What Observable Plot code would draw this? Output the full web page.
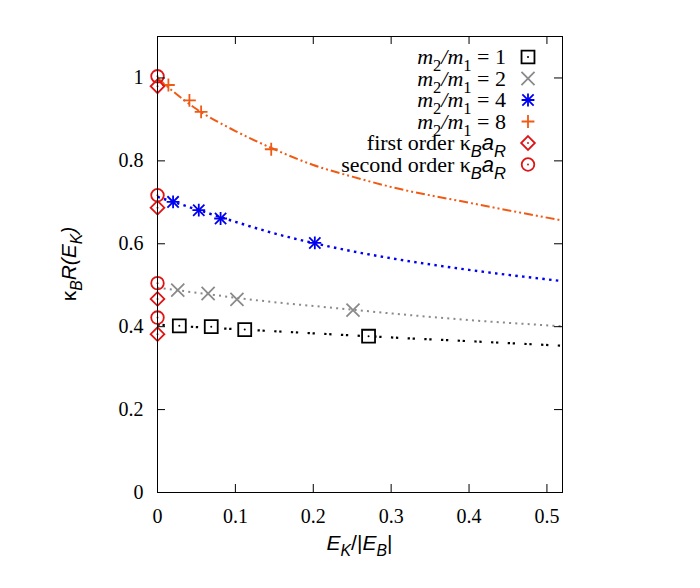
<!DOCTYPE html>
<html><head><meta charset="utf-8">
<script src="https://cdn.jsdelivr.net/npm/d3@7"></script>
<script src="https://cdn.jsdelivr.net/npm/@observablehq/plot@0.6"></script>
<style>body{margin:0;background:#fff}</style>
</head><body><div id="chart"></div>
<script>
// ---- data ----
const xTicks = [0, 0.1, 0.2, 0.3, 0.4, 0.5];
const yTicks = [0, 0.2, 0.4, 0.6, 0.8, 1];
const ratios = [1, 2, 4, 8];

// fitted curves
const fitX  = [0, 0.025, 0.05, 0.1, 0.15, 0.2, 0.25, 0.3, 0.4, 0.52];
const fitR1 = [0.405, 0.402, 0.399, 0.394, 0.389, 0.384, 0.379, 0.374, 0.365, 0.354];
const fitR2 = [0.494, 0.488, 0.482, 0.470, 0.459, 0.450, 0.441, 0.432, 0.416, 0.401];
const fitR4 = [0.713, 0.698, 0.683, 0.653, 0.625, 0.602, 0.582, 0.565, 0.537, 0.510];
const fitR8 = [1.000, 0.960, 0.925, 0.872, 0.828, 0.790, 0.762, 0.737, 0.699, 0.656];

// computed points
const ptsX1 = [0.028, 0.069, 0.112, 0.271];
const ptsY1 = [0.402, 0.400, 0.393, 0.377];
const ptsX2 = [0.026, 0.065, 0.102, 0.251];
const ptsY2 = [0.488, 0.480, 0.466, 0.440];
const ptsX4 = [0.020, 0.053, 0.081, 0.202];
const ptsY4 = [0.701, 0.681, 0.661, 0.602];
const ptsX8 = [0.014, 0.041, 0.056, 0.146];
const ptsY8 = [0.983, 0.946, 0.918, 0.828];

// scattering-length estimates at E_K = 0
const orderX = [0, 0, 0, 0];
const firstOrder  = [0.382, 0.467, 0.687, 0.980];
const secondOrder = [0.422, 0.505, 0.717, 1.004];

// ---- styling ----
const colors  = {1: "#000000", 2: "#8a8a8a", 4: "#0000f0", 8: "#f05a14"};
const dashes  = {1: "2.3,2.7,2.3,9.4", 2: "2,4.2", 4: "2.5,4.3", 8: "9,3,2,3,2,3"};
const widths  = {1: 2.2, 2: 2, 4: 2.4, 8: 2};
const red = "#e01414";
const fits = {1: fitR1, 2: fitR2, 4: fitR4, 8: fitR8};
const pts  = {1: [ptsX1, ptsY1], 2: [ptsX2, ptsY2], 4: [ptsX4, ptsY4], 8: [ptsX8, ptsY8]};

const serif = "Liberation Serif";
const sans = "Liberation Sans";

const W = 700, H = 588, mL = 157, mR = 138, mT = 36, mB = 96;
const pw = W - mL - mR, ph = H - mT - mB;
const fmt = d => String(+d.toFixed(1));

const fitRows = r => fitX.map((x, i) => ({x, y: fits[r][i]}));
const ptRows = r => pts[r][0].map((x, i) => ({x, y: pts[r][1][i]}));
const firstRows = orderX.map((x, i) => ({x, y: firstOrder[i]}));
const secondRows = orderX.map((x, i) => ({x, y: secondOrder[i]}));

const sw = 1.8;
const marks = [
  ...ratios.map(r => Plot.line(fitRows(r), {x: "x", y: "y", stroke: colors[r], strokeWidth: widths[r],
      strokeDasharray: dashes[r], strokeLinecap: "butt", curve: "monotone-x"})),
  Plot.dot(ptRows(1), {x: "x", y: "y", symbol: "square", r: 7.3, stroke: colors[1], fill: "white", strokeWidth: sw}),
  Plot.dot(ptRows(1), {x: "x", y: "y", r: 1, fill: colors[1]}),
  Plot.dot(ptRows(2), {x: "x", y: "y", symbol: "times", r: 6, stroke: colors[2], strokeWidth: sw}),
  Plot.dot(ptRows(4), {x: "x", y: "y", symbol: "plus", r: 4.2, stroke: colors[4], strokeWidth: sw}),
  Plot.dot(ptRows(4), {x: "x", y: "y", symbol: "times", r: 5.2, stroke: colors[4], strokeWidth: sw}),
  Plot.dot(ptRows(8), {x: "x", y: "y", symbol: "plus", r: 4.2, stroke: colors[8], strokeWidth: sw}),
  Plot.dot(firstRows, {x: "x", y: "y", symbol: "diamond2", r: 6.2, stroke: red, fill: "none", strokeWidth: sw}),
  Plot.dot(firstRows, {x: "x", y: "y", r: 1, fill: red}),
  Plot.dot(secondRows, {x: "x", y: "y", symbol: "circle", r: 6.3, stroke: red, fill: "none", strokeWidth: sw}),
  Plot.dot(secondRows, {x: "x", y: "y", r: 1, fill: red}),
  Plot.ruleX(xTicks, {x: d => d, insetTop: ph - 8, stroke: "black"}),
  Plot.ruleX(xTicks, {x: d => d, insetBottom: ph - 8, stroke: "black"}),
  Plot.ruleY(yTicks, {y: d => d, insetRight: pw - 8, stroke: "black"}),
  Plot.ruleY(yTicks, {y: d => d, insetLeft: pw - 8, stroke: "black"}),
  Plot.axisX(xTicks, {tickSize: 0, tickPadding: 16, tickFormat: fmt, label: null, fontFamily: serif, fontSize: 20}),
  Plot.axisY(yTicks, {tickSize: 0, tickPadding: 14, tickFormat: fmt, label: null, fontFamily: serif, fontSize: 20}),
  Plot.frame({stroke: "black"})
];

const svg = Plot.plot({
  width: W, height: H,
  marginLeft: mL, marginRight: mR, marginTop: mT, marginBottom: mB,
  x: {domain: [0, 0.52]},
  y: {domain: [0, 1.1]},
  style: {fontFamily: serif, fontSize: "20px", background: "white", color: "black", overflow: "visible"},
  marks
});
document.getElementById("chart").appendChild(svg);

// ---- rich text helper ----
function rich(text, parts, size) {
  let shift = 0;
  for (const p of parts) {
    const target = p.sub ? Math.round(size * 0.3) : 0;
    const ts = text.append("tspan").text(p.t)
      .style("font-family", p.f || serif)
      .style("font-style", p.i ? "italic" : "normal")
      .style("font-size", (p.sub ? size * 0.75 : size) + "px");
    if (target !== shift) { ts.attr("dy", target - shift); shift = target; }
  }
}
const s = d3.select(svg);
// force serif tick labels (inline style wins over any stylesheet)
s.selectAll("text").style("font-family", serif).style("font-size", "20px");

// axis labels
const xl = s.append("text").attr("x", mL + pw / 2).attr("y", 550).attr("text-anchor", "middle");
rich(xl, [{t: "E", f: sans, i: 1}, {t: "K", f: sans, i: 1, sub: 1}, {t: "/|", f: sans},
          {t: "E", f: sans, i: 1}, {t: "B", f: sans, i: 1, sub: 1}, {t: "|", f: sans}], 21);
const yl = s.append("text").attr("transform", `translate(76,${mT + ph / 2}) rotate(-90)`).attr("text-anchor", "middle");
rich(yl, [{t: "κ", f: sans}, {t: "B", f: sans, i: 1, sub: 1}, {t: "R(", f: sans, i: 1},
          {t: "E", f: sans, i: 1}, {t: "K", f: sans, i: 1, sub: 1}, {t: ")", f: sans, i: 1}], 21);

// legend
const legendLabels = [
  ...ratios.map(r => [{t: "m", i: 1}, {t: "2", sub: 1}, {t: "/", i: 1}, {t: "m", i: 1}, {t: "1", sub: 1}, {t: " = " + r}]),
  [{t: "first order κ"}, {t: "B", f: sans, i: 1, sub: 1}, {t: "a", f: sans, i: 1}, {t: "R", f: sans, i: 1, sub: 1}],
  [{t: "second order κ"}, {t: "B", f: sans, i: 1, sub: 1}, {t: "a", f: sans, i: 1}, {t: "R", f: sans, i: 1, sub: 1}]
];
const legendSymbols = [
  [[d3.symbolSquare, 7.3, colors[1], true]],
  [[d3.symbolTimes, 6, colors[2], false]],
  [[d3.symbolPlus, 4.2, colors[4], false], [d3.symbolTimes, 5.2, colors[4], false]],
  [[d3.symbolPlus, 4.2, colors[8], false]],
  [[d3.symbolDiamond2, 6.2, red, true]],
  [[d3.symbolCircle, 6.3, red, true]]
];
const lx = 506, mx = 528, ly0 = 57, dly = 21.5;
legendLabels.forEach((parts, k) => {
  const cy = ly0 + k * dly;
  const t = s.append("text").attr("x", lx).attr("y", cy + 7).attr("text-anchor", "end");
  rich(t, parts, 22);
  const g = s.append("g").attr("transform", `translate(${mx},${cy})`);
  for (const [type, r, c, dot] of legendSymbols[k]) {
    g.append("path").attr("d", d3.symbol(type, r * r * Math.PI)())
      .attr("fill", "none").attr("stroke", c).attr("stroke-width", sw);
    if (dot) g.append("circle").attr("r", 1).attr("fill", c);
  }
});
</script>
</body></html>
